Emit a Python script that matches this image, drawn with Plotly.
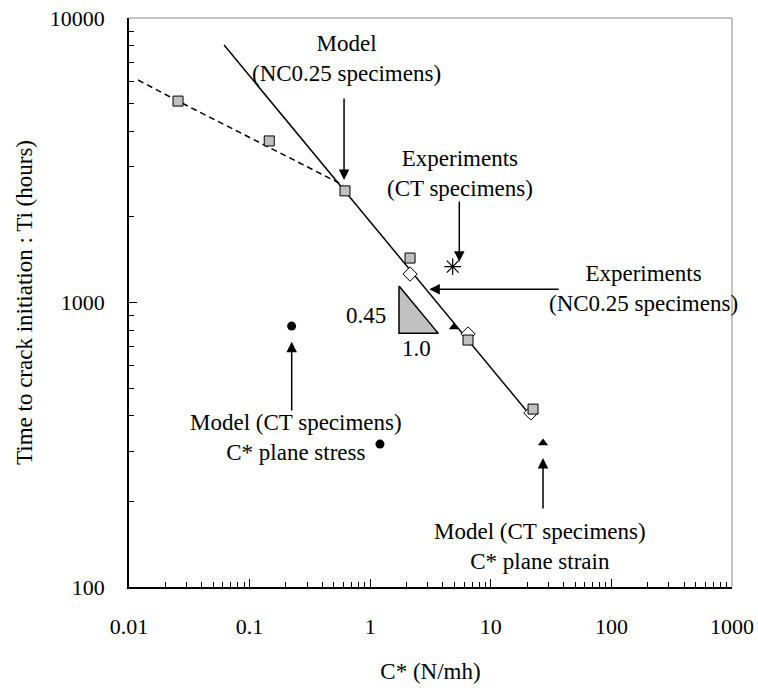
import math
import plotly.graph_objects as go

# ---- data ----
sq_x = [0.0255, 0.1455, 0.618, 2.14, 6.47, 22.4]
sq_y = [5105, 3697, 2468, 1433, 738, 422]
dia_x = [2.14, 6.47, 21.5]
dia_y = [1259, 775, 409]
ast_x = [4.83]
ast_y = [1337]
tri_x = [4.95, 27.1]
tri_y = [820, 321]
circ_x = [0.223, 1.205]
circ_y = [826, 318]
fit_x = [0.0614, 21.8]
fit_y = [8037, 396]
dash_x = [0.0119, 0.0255, 0.595]
dash_y = [6055, 5105, 2588]
slope_tri_x = [1.733, 1.733, 3.67, 1.733]
slope_tri_y = [1143, 779, 779, 1143]

FONT = "Liberation Serif"
FS = 23
TFS = 22

fig = go.Figure()
fig.add_trace(go.Scatter(x=dash_x, y=dash_y, mode="lines",
                         line=dict(color="black", width=1.5, dash="6px,4px")))
fig.add_trace(go.Scatter(x=fit_x, y=fit_y, mode="lines",
                         line=dict(color="black", width=1.5)))
fig.add_trace(go.Scatter(x=slope_tri_x, y=slope_tri_y, mode="lines", fill="toself",
                         fillcolor="#c0c0c0", line=dict(color="black", width=1.5)))
fig.add_trace(go.Scatter(x=dia_x, y=dia_y, mode="markers",
                         marker=dict(symbol="diamond", size=11, color="white",
                                     line=dict(color="black", width=1))))
fig.add_trace(go.Scatter(x=sq_x, y=sq_y, mode="markers",
                         marker=dict(symbol="square", size=10, color="#c0c0c0",
                                     line=dict(color="black", width=1))))
fig.add_trace(go.Scatter(x=ast_x, y=ast_y, mode="markers",
                         marker=dict(symbol="asterisk-open", size=14, color="black",
                                     line=dict(color="black", width=1.2))))
fig.add_trace(go.Scatter(x=tri_x, y=tri_y, mode="markers",
                         marker=dict(symbol="triangle-up", size=9, color="black")))
fig.add_trace(go.Scatter(x=circ_x, y=circ_y, mode="markers",
                         marker=dict(symbol="circle", size=9, color="black")))

L = math.log10
texts = [
    ("Model<br>(NC0.25 specimens)", -0.2007, 3.856),
    ("Experiments<br>(CT specimens)", 0.7446, 3.455),
    ("Experiments<br>(NC0.25 specimens)", 2.270, 3.0475),
    ("Model (CT specimens)<br>C* plane stress", -0.615, 2.527),
    ("Model (CT specimens)<br>C* plane strain", 1.408, 2.144),
    ("0.45", -0.035, 2.956),
    ("1.0", 0.380, 2.840),
]
for t, x, y in texts:
    fig.add_annotation(x=x, y=y, text=t, showarrow=False,
                       font=dict(family=FONT, size=FS, color="black"))

arrows = [
    # tip x, tip y, tail x, tail y (data units)
    (0.607, 2696, 0.607, 5276),
    (5.48, 1391, 5.48, 2291),
    (3.09, 1113, 37.5, 1113),
    (0.2234, 728, 0.2234, 412),
    (27.1, 284, 27.1, 186.5),
]
for tx, ty, ax, ay in arrows:
    fig.add_annotation(x=L(tx), y=L(ty), ax=L(ax), ay=L(ay), xref="x", yref="y",
                       axref="x", ayref="y", text="", showarrow=True,
                       arrowhead=2, arrowsize=1.4, arrowwidth=1.5, arrowcolor="black")

# thin grey frame on top and right
fig.add_shape(type="line", xref="paper", yref="paper", x0=0, x1=1, y0=1, y1=1,
              line=dict(color="#888888", width=1))
fig.add_shape(type="line", xref="paper", yref="paper", x0=1, x1=1, y0=0, y1=1,
              line=dict(color="#888888", width=1))

common = dict(type="log", showline=True, linecolor="black", linewidth=1.5,
              ticks="inside", ticklen=8, tickcolor="black",
              tickmode="linear", tick0=0, dtick=1, tickformat="~g",
              ticklabeloverflow="allow",
              minor=dict(ticks="inside", ticklen=5, tickcolor="black", dtick="D1",
                         showgrid=False),
              showgrid=False, zeroline=False, automargin=False,
              tickfont=dict(family=FONT, size=TFS, color="black"))

fig.update_xaxes(range=[-2, 3], ticklabelstandoff=19,
                 title=dict(text="C* (N/mh)", font=dict(family=FONT, size=FS), standoff=25),
                 **common)
fig.update_yaxes(range=[2, 4], ticklabelstandoff=18,
                 title=dict(text="Time to crack initiation : Ti (hours)",
                            font=dict(family=FONT, size=FS), standoff=11),
                 **common)

fig.update_layout(width=758, height=691, showlegend=False,
                  paper_bgcolor="white", plot_bgcolor="white",
                  margin=dict(l=129, r=26, t=18, b=104),
                  font=dict(family=FONT, size=FS, color="black"))
fig.write_html("out.html", config={"displayModeBar": False},
               post_script="document.body.style.margin='0';document.body.style.overflow='hidden';")
